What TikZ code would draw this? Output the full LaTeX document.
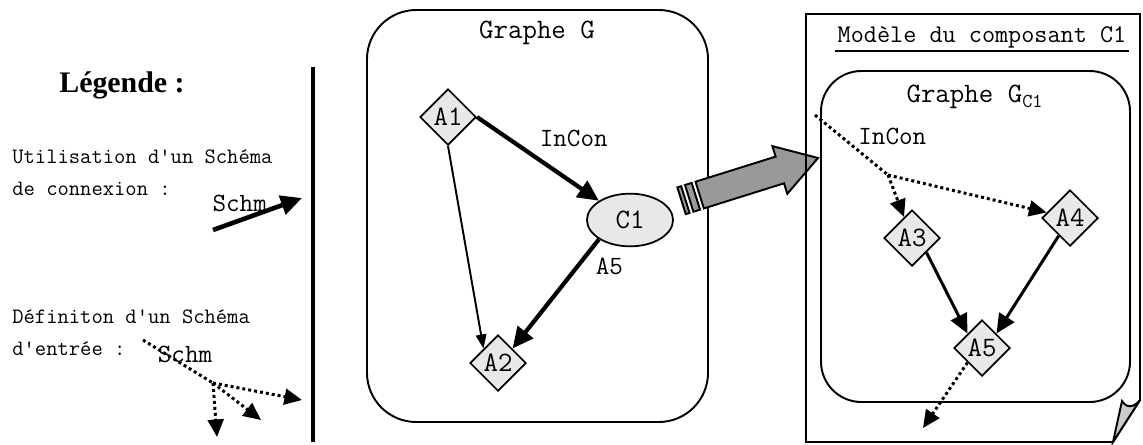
\documentclass[tikz,border=0pt]{standalone}
\usepackage{fontspec}
\newfontfamily\legfont{Liberation Serif}
\usetikzlibrary{shapes.geometric,arrows.meta}
\newcommand{\lbl}{\ttfamily\fontsize{15}{17}\selectfont}
\newcommand{\act}{\ttfamily\fontsize{16}{18}\selectfont}
\newcommand{\ttl}{\ttfamily\fontsize{16}{18}\selectfont}
\newcommand{\lgd}{\ttfamily\fontsize{12.5}{18}\selectfont}

\begin{document}
\begin{tikzpicture}[x=0.02cm,y=-0.02cm,auto,
	actnode/.style={diamond,draw,line width=1pt,fill=black!9,inner sep=0pt,minimum size=32pt,font=\act},
	compnode/.style={ellipse,draw,line width=1pt,fill=black!9,inner sep=0pt,minimum width=49pt,minimum height=30pt,font=\act},
	boxline/.style={line width=1.1pt},
	heavy/.style={-{Triangle[length=12pt,width=11pt]},line width=2.4pt},
	medium/.style={-{Triangle[length=11pt,width=10pt]},line width=1.7pt},
	light/.style={-{Triangle[length=8pt,width=6pt]},line width=1.1pt},
	dotline/.style={line width=1.7pt,dash pattern=on 1.7pt off 1.7pt},
	dotarrow/.style={dotline,-{Triangle[length=10pt,width=9pt]}}]
				\useasboundingbox (0,0) rectangle (1143,444);
				% legende
				\node[font=\legfont\bfseries\fontsize{17}{20}\selectfont] (legt) at (122,85) {Légende :};
				\node[font=\lgd,align=left,anchor=west,inner sep=0pt] (usetx) at (12,173) {Utilisation d'un Schéma\\de connexion :};
				\node[font=\lgd,align=left,anchor=west,inner sep=0pt] (deftx) at (12,333) {Définiton d'un Schéma\\d'entrée :};
				\coordinate (lgA) at (213,230);
				\coordinate (lgB) at (302,198);
				\draw[-{Triangle[length=12pt,width=11pt]},line width=2.6pt] (lgA) to node[pos=0.3,above,font=\lbl]{Schm}(lgB);
				\coordinate (ldS) at (143,340);
				\coordinate (ldJ) at (213,383);
				\coordinate (ldT1) at (302,400);
				\coordinate (ldT2) at (261,420);
				\coordinate (ldT3) at (217,437);
				\draw[dotline] (ldS) to node[pos=0.6,above,inner sep=1pt,font=\lbl]{Schm}(ldJ);
				\draw[dotarrow] (ldJ) to (ldT1);
				\draw[dotarrow] (ldJ) to (ldT2);
				\draw[dotarrow] (ldJ) to (ldT3);
				\draw[line width=2.3pt] (313,67) -- (313,442);
				% graphe G
				\draw[boxline,rounded corners=28pt] (367,10) rectangle (708,422);
				\node[font=\ttl] (gG) at (537,33) {Graphe G};
				\node[actnode] (a1) at (448,117) {A1};
				\node[actnode] (a2) at (498,363) {A2};
				\node[compnode] (c1) at (630,220) {C1};
				\draw[heavy] (a1.east) to node[pos=0.45,font=\lbl]{InCon}(c1.north west);
				\draw[light] (a1.south) to (a2.north west);
				\draw[heavy] (c1.south west) to node[pos=0.25,right=6pt,font=\lbl]{A5}(a2.north east);
				% fleche vers le modele
				\begin{scope}[shift={(818,158)},rotate=17.4]
					\draw[boxline,fill=black!40] (0,0) -- (-40,-25) -- (-40,-14) -- (-124,-14) -- (-124,14) -- (-40,14) -- (-40,25) -- cycle;
					\draw[boxline,fill=black!40] (-128,-14) rectangle (-135,14);
					\draw[boxline,fill=black!40] (-139,-14) rectangle (-143,14);
				\end{scope}
				% modele du composant C1
				\draw[boxline] (806,14) -- (1140,14) -- (1140,400) -- (1113,442) -- (806,442) -- cycle;
				\draw[boxline,fill=black!20] (1113,442) -- (1122,401) .. controls (1128,410) and (1135,406) .. (1140,400) -- cycle;
				\node[font=\ttfamily\fontsize{14.5}{17}\selectfont,inner sep=1.5pt] (mdl) at (982,37) {Modèle du composant C1};
				\draw[line width=1.2pt] (mdl.south west) -- (mdl.south east);
				\draw[boxline,rounded corners=23pt] (821,71) rectangle (1130,402);
				\node[font=\ttl] (gC) at (975,97) {Graphe G\textsubscript{C1}};
				\node[actnode] (a3) at (912,238) {A3};
				\node[actnode] (a4) at (1070,218) {A4};
				\node[actnode] (a5) at (982,348) {A5};
				\draw[medium] (a3.south east) to (a5.north west);
				\draw[medium] (a4) to (a5.north east);
				\coordinate (inS) at (815,115);
				\coordinate (inJ) at (888,175);
				\coordinate (outE) at (923,428);
				\draw[dotline] (inS) to node[pos=0.55,font=\lbl,inner sep=1pt]{InCon}(inJ);
				\draw[dotarrow] (inJ) to (a3);
				\draw[dotarrow] (inJ) to (a4);
				\draw[dotarrow] (a5.south west) to (outE);
			\end{tikzpicture}
\end{document}
